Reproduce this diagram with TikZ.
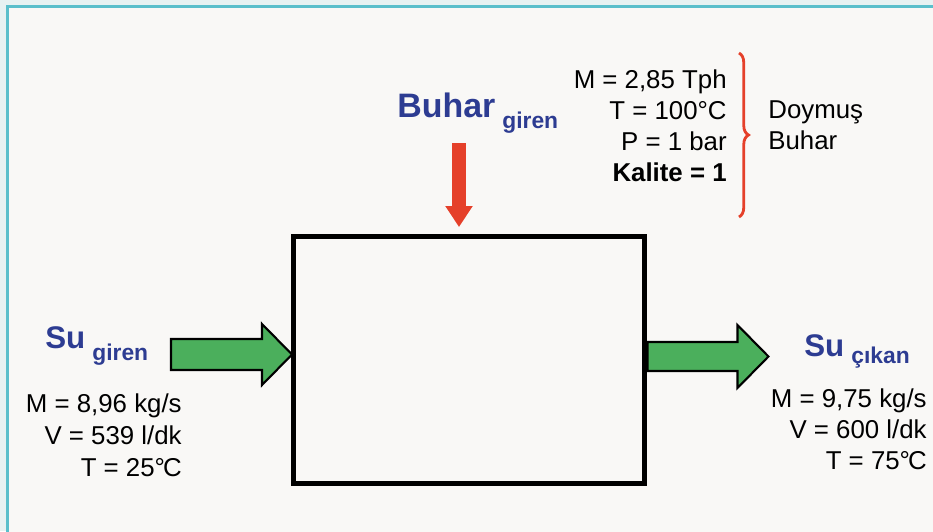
\documentclass[tikz,border=0pt]{standalone}
\usepackage{fontspec}
\setmainfont{Liberation Sans}
\usetikzlibrary{arrows.meta,decorations.pathreplacing}
\definecolor{disarka}{HTML}{E7F2F2}
\definecolor{ic}{HTML}{F9F8F6}
\definecolor{cerceve}{HTML}{5ABFCB}
\definecolor{baslikmavi}{HTML}{2D3C92}
\definecolor{buharkirmizi}{HTML}{E5402A}
\definecolor{suyesil}{HTML}{4BAF5C}
\newcommand{\altyazi}{\fontsize{13}{15}\selectfont}
\tikzset{
  baslik/.style={text=baslikmavi, font=\fontsize{19.3}{22}\selectfont\bfseries, inner sep=0pt},
  ozellik/.style={align=right, inner sep=0pt, anchor=north east, font=\fontsize{14.7}{17.8}\selectfont},
  suok/.style={draw=black, line width=1.2pt, fill=suyesil, line join=miter},
  buharok/.style={draw=buharkirmizi, line width=0.29cm, -{Triangle[width=0.52cm,length=0.42cm]}, shorten >=0.13cm}
}
\begin{document}
\begin{tikzpicture}[x=0.02cm,y=-0.02cm]
\useasboundingbox (0,0) rectangle (933,531);
\clip (0,0) rectangle (933,531);
% zemin ve cerceve
\fill[disarka] (0,0) rectangle (933,531);
\draw[cerceve, line width=1.7pt, fill=ic] (7.5,6.5) rectangle (950,550);

% isi degistirici
\node[draw, line width=0.1cm, minimum width=7.04cm, minimum height=4.96cm, inner sep=0pt] (kap) at (469,360) {};

% buhar girisi
\node[baslik, anchor=base west] (buhar) at (397,117) {Buhar\hspace{0.14cm}\raisebox{-0.22cm}{\altyazi giren}};
\coordinate (bustu) at (459,143);
\draw[buharok] (bustu) -- (bustu |- kap.north);
\node[ozellik] (buharoz) at (727,69) {M = 2,85 Tph\\T = 100°C\\P = 1 bar\\\textbf{Kalite = 1}};
\coordinate (kust) at (739,53);
\coordinate (kalt) at (739,217);
\draw[buharkirmizi, line width=1.6pt, decorate, decoration={brace, amplitude=0.19cm}] (kust) -- (kalt);
\node[align=left, inner sep=0pt, anchor=north west, font=\fontsize{14.7}{17.8}\selectfont] (doymus) at (768,100) {Doymuş\\Buhar};

% su girisi
\node[baslik, anchor=base west, font=\fontsize{17.8}{20}\selectfont\bfseries] (sugir) at (45,348) {Su\hspace{0.14cm}\raisebox{-0.24cm}{\altyazi giren}};
\coordinate (sol) at (171,354.5);
\draw[suok] (sol) ++(0,-15.5) -- ++(91,0) -- ++(0,-15) -- ++(30,30.5) -- ++(-30,30.5) -- ++(0,-15) -- ++(-91,0) -- cycle;
\node[ozellik, font=\fontsize{14.7}{18.4}\selectfont] (suoz) at (182,393) {M = 8,96 kg/s\\V = 539 l/dk\\T = 25°\kern-0.08em C};

% su cikisi
\node[baslik, anchor=base west, font=\fontsize{17.8}{20}\selectfont\bfseries] (sucik) at (804,356) {Su\hspace{0.14cm}\raisebox{-0.14cm}{\altyazi çıkan}};
\coordinate (sag) at (kap.east |- 0,356.5);
\draw[suok] (sag) ++(0,-14.5) -- ++(90,0) -- ++(0,-17) -- ++(31,31.5) -- ++(-31,31.5) -- ++(0,-17) -- ++(-90,0) -- cycle;
\node[ozellik] (cikoz) at (927,388) {M = 9,75 kg/s\\V = 600 l/dk\\T = 75°\kern-0.08em C};
\end{tikzpicture}
\end{document}
